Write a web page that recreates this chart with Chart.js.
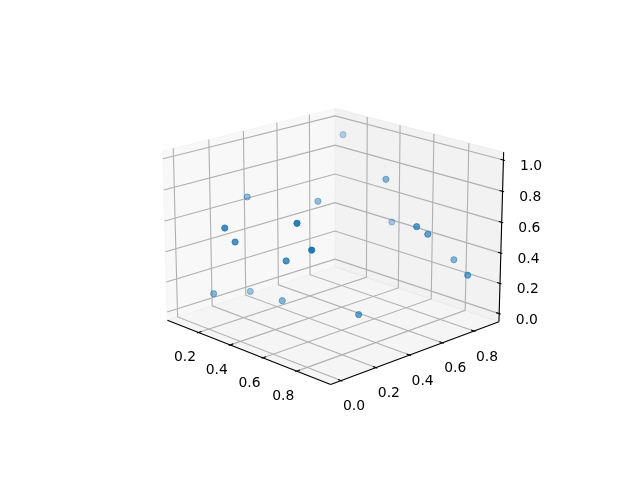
<!DOCTYPE html>
<html>
<head>
<meta charset="utf-8">
<script src="https://cdn.jsdelivr.net/npm/chart.js@4/dist/chart.umd.min.js"></script>
<style>
html, body { margin: 0; padding: 0; background: #fff; }
canvas { display: block; }
</style>
</head>
<body>
<canvas id="chart3d" width="640" height="480"></canvas>
<script>
// Point values
const xValues = [0.156, 0.507, 0.435, 0.815, 0.812, 0.786, 0.949, 0.686, 0.281, 0.651, 0.761, 0.517, 0.065, 0.359, 0.354, 0.105, 0.119, 0.315];
const yValues = [0.853, 0.762, 0.878, 0.626, 0.699, 0.897, 0.802, 0.414, 0.573, 0.091, 0.066, 0.156, 0.355, -0.040, 0.020, 0.115, 0.316, 0.323];
const zValues = [0.948, 0.784, 0.440, 0.621, 0.547, 0.304, 0.295, 0.078, 0.624, 0.760, 0.641, 0.454, 0.650, 0.673, 0.563, 0.101, 0.049, 0.059];

const xTicks = [0.2, 0.4, 0.6, 0.8];
const yTicks = [0.0, 0.2, 0.4, 0.6, 0.8];
const zTicks = [0.0, 0.2, 0.4, 0.6, 0.8, 1.0];

const xLim = [-0.003, 0.993];
const yLim = [-0.058, 0.962];
const zLim = [-0.054, 1.05];

// Camera, same model as a matplotlib 3D axes
const elev = 18.25 * Math.PI / 180;
const azim = -44.25 * Math.PI / 180;
const dist = 10;
const box = [1.19, 1.19, 0.8927];

const w = [Math.cos(elev) * Math.cos(azim), Math.cos(elev) * Math.sin(azim), Math.sin(elev)];
const u = [-Math.sin(azim), Math.cos(azim), 0];
const v = [w[1] * u[2] - w[2] * u[1], w[2] * u[0] - w[0] * u[2], w[0] * u[1] - w[1] * u[0]];
const dot = (a, b) => a[0] * b[0] + a[1] * b[1] + a[2] * b[2];

function toBox(x, y, z) {
    return [
        (x - xLim[0]) / (xLim[1] - xLim[0]) * box[0] - box[0] / 2,
        (y - yLim[0]) / (yLim[1] - yLim[0]) * box[1] - box[1] / 2,
        (z - zLim[0]) / (zLim[1] - zLim[0]) * box[2] - box[2] / 2
    ];
}

function project(x, y, z) {
    const p = toBox(x, y, z);
    const d = dist - dot(w, p);
    return { x: dot(u, p) / d, y: dot(v, p) / d };
}

const depth = (x, y, z) => dot(w, toBox(x, y, z));

function line(points, color, order) {
    return {
        data: points.map(p => project(p[0], p[1], p[2])),
        showLine: true,
        borderColor: color,
        borderWidth: 1.1,
        pointRadius: 0,
        fill: false,
        clip: false,
        order: order
    };
}

function pane(points, color) {
    const ds = line(points.concat([points[0]]), color, 4);
    ds.fill = 'shape';
    ds.backgroundColor = color;
    return ds;
}

const [x0, x1] = xLim;
const [y0, y1] = yLim;
const [z0, z1] = zLim;
const xStep = (x1 - x0) / 12;
const yStep = (y1 - y0) / 12;
const gridColor = '#b0b0b0';
const axisColor = '#000000';

const datasets = [
    pane([[x0, y0, z0], [x0, y1, z0], [x0, y1, z1], [x0, y0, z1]], 'rgba(242, 242, 242, 0.5)'),
    pane([[x0, y1, z0], [x1, y1, z0], [x1, y1, z1], [x0, y1, z1]], 'rgba(230, 230, 230, 0.5)'),
    pane([[x0, y0, z0], [x1, y0, z0], [x1, y1, z0], [x0, y1, z0]], 'rgba(236, 236, 236, 0.5)')
];

// Grid lines run over the back walls, tick marks sit on the axis edges
xTicks.forEach(t => {
    datasets.push(line([[t, y0, z0], [t, y1, z0], [t, y1, z1]], gridColor, 3));
    datasets.push(line([[t, y0 + 0.2 * yStep, z0], [t, y0 - 0.1 * yStep, z0]], axisColor, 2));
});
yTicks.forEach(t => {
    datasets.push(line([[x1, t, z0], [x0, t, z0], [x0, t, z1]], gridColor, 3));
    datasets.push(line([[x1 - 0.2 * xStep, t, z0], [x1 + 0.1 * xStep, t, z0]], axisColor, 2));
});
zTicks.forEach(t => {
    datasets.push(line([[x0, y0, t], [x0, y1, t], [x1, y1, t]], gridColor, 3));
    datasets.push(line([[x1 - 0.2 * xStep, y1, t], [x1 + 0.1 * xStep, y1, t]], axisColor, 2));
});

datasets.push(line([[x0, y0, z0], [x1, y0, z0]], axisColor, 2));
datasets.push(line([[x1, y0, z0], [x1, y1, z0]], axisColor, 2));
datasets.push(line([[x1, y1, z0], [x1, y1, z1]], axisColor, 2));

// Depth shading: far points fade to 0.3 alpha
const depths = xValues.map((x, i) => depth(x, yValues[i], zValues[i]));
const nearest = Math.max(...depths);
const farthest = Math.min(...depths);
const pointColors = depths.map(d => {
    const alpha = 1 - 0.7 * (nearest - d) / (nearest - farthest);
    return `rgba(31, 119, 180, ${alpha.toFixed(3)})`;
});

datasets.push({
    data: xValues.map((x, i) => project(x, yValues[i], zValues[i])),
    pointRadius: 3.1,
    borderWidth: 1,
    pointBackgroundColor: pointColors,
    pointBorderColor: pointColors,
    clip: false,
    order: 1
});

// Tick labels follow the projected tick positions
const tickLabels = {
    id: 'tickLabels',
    afterDraw(chart) {
        const ctx = chart.ctx;
        const scaleX = chart.scales.x;
        const scaleY = chart.scales.y;
        const put = (x, y, z, text, dx, dy) => {
            const q = project(x, y, z);
            ctx.fillText(text.toFixed(1), scaleX.getPixelForValue(q.x) + dx, scaleY.getPixelForValue(q.y) + dy);
        };
        ctx.save();
        ctx.font = '13.9px "DejaVu Sans"';
        ctx.fillStyle = '#000';
        ctx.textAlign = 'center';
        ctx.textBaseline = 'middle';
        xTicks.forEach(t => put(t, y0, z0, t, -13.5, 25.3));
        yTicks.forEach(t => put(x1, t, z0, t, 13, 26));
        zTicks.forEach(t => put(x1, y1, t, t, 27.7, 6.3));
        ctx.restore();
    }
};

new Chart(document.getElementById('chart3d'), {
    type: 'scatter',
    data: { datasets: datasets },
    plugins: [tickLabels],
    options: {
        responsive: false,
        animation: false,
        layout: { padding: { left: 143.2, right: 127.2, top: 57.6, bottom: 52.8 } },
        plugins: { legend: { display: false }, tooltip: { enabled: false } },
        scales: {
            x: { type: 'linear', min: -0.095, max: 0.09, display: false },
            y: { type: 'linear', min: -0.095, max: 0.09, display: false }
        }
    }
});
</script>
</body>
</html>
